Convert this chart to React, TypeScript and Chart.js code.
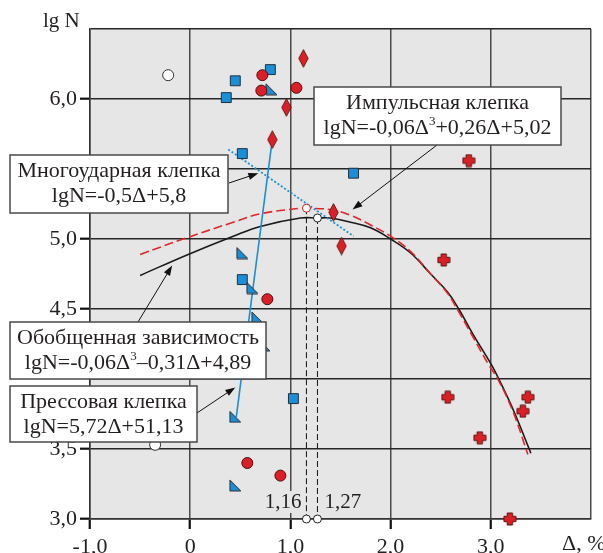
import React, { useEffect, useRef } from "react";
import { Chart, registerables } from "chart.js";
Chart.register(...registerables);

// ---------- data ----------
const xTickLabels = ["-1,0", "0", "1,0", "2,0", "3,0", ""];
const yTickLabels = ["3,0", "3,5", "", "4,5", "5,0", "", "6,0", ""];

const openCircleX = [-0.22, -0.35];
const openCircleY = [6.17, 3.53];

const blueSquareX = [0.36, 0.45, 0.8, 0.52, 1.63, 0.52, 1.03];
const blueSquareY = [6.01, 6.13, 6.21, 5.61, 5.47, 4.71, 3.86];

const blueTriangleX = [0.81, 0.52, 0.62, 0.67, 0.74, 0.45, 0.45];
const blueTriangleY = [6.07, 4.9, 4.65, 4.44, 4.24, 3.73, 3.24];

const redCircleX = [0.72, 0.71, 1.06, 0.77, 0.57, 0.9];
const redCircleY = [6.17, 6.06, 6.08, 4.57, 3.4, 3.31];

const redDiamondX = [1.13, 0.96, 0.82, 1.43, 1.51];
const redDiamondY = [6.29, 5.94, 5.71, 5.19, 4.95];

const redCrossX = [2.78, 2.53, 2.57, 2.89, 3.32, 3.37, 3.19];
const redCrossY = [5.56, 4.85, 3.87, 3.58, 3.77, 3.87, 3.0];

const generalX = [-0.5, -0.02, 0.43, 0.7, 1.1, 1.27, 1.4, 1.6, 1.8, 2.0, 2.2, 2.4, 2.57, 2.68, 2.83, 3.0, 3.08, 3.23, 3.4];
const generalY = [4.74, 4.89, 5.02, 5.09, 5.15, 5.15, 5.15, 5.12, 5.08, 5.0, 4.9, 4.75, 4.62, 4.5, 4.31, 4.11, 4.0, 3.77, 3.47];

const impulseX = [-0.5, -0.03, 0.43, 0.7, 1.1, 1.16, 1.4, 1.6, 1.8, 2.0, 2.2, 2.4, 2.57, 2.68, 2.83, 2.98, 3.07, 3.22, 3.37];
const impulseY = [4.89, 5.01, 5.12, 5.18, 5.22, 5.22, 5.21, 5.17, 5.1, 5.02, 4.91, 4.75, 4.61, 4.48, 4.29, 4.1, 4.0, 3.77, 3.46];

const pressX = [0.81, 0.46];
const pressY = [5.66, 3.73];

const multiX = [0.38, 1.63];
const multiY = [5.64, 5.02];

const peakImpulseX = [1.16, 1.16];
const peakImpulseY = [5.22, 3.0];
const peakGeneralX = [1.27, 1.27];
const peakGeneralY = [5.15, 3.0];
const peakLabels = ["1,16", "1,27"];

const boxTexts = [
  [[["Многоударная клепка", false]], [["lgN=-0,5Δ+5,8", false]]],
  [[["Импульсная клепка", false]], [["lgN=-0,06Δ", false], ["3", true], ["+0,26Δ+5,02", false]]],
  [[["Обобщенная зависимость", false]], [["lgN=-0,06Δ", false], ["3", true], ["–0,31Δ+4,89", false]]],
  [[["Прессовая клепка", false]], [["lgN=5,72Δ+51,13", false]]],
];
const arrowTipX = [0.68, 1.62, -0.18, 0.45];
const arrowTipY = [5.47, 5.21, 4.81, 3.94];

// ---------- layout / style ----------
const BOXES = [
  { x: 10, y: 155, w: 218, h: 58, from: [229, 183] },
  { x: 314, y: 87, w: 247, h: 58, from: [437, 145] },
  { x: 10, y: 322, w: 256, h: 57, from: [138, 322] },
  { x: 10, y: 386, w: 187, h: 56, from: [197, 413] },
];
const FONT = '"Liberation Serif", "DejaVu Serif", serif';
const BLUE = "#1b8ed6";
const RED = "#dc1f26";
const EDGE = "#2a2a2a";
const TXT = "#231f20";

const pts = (xs: number[], ys: number[]) => xs.map((x, i) => ({ x, y: ys[i] }));

function mk(w: number, h: number, draw: (g: CanvasRenderingContext2D) => void) {
  const c = document.createElement("canvas");
  c.width = w;
  c.height = h;
  draw(c.getContext("2d") as CanvasRenderingContext2D);
  return c;
}

function drawRich(ctx: CanvasRenderingContext2D, parts: any[], cx: number, base: number, size: number) {
  let total = 0;
  const ws = parts.map(([t, s]) => {
    ctx.font = `${s ? Math.round(size * 0.6) : size}px ${FONT}`;
    const w = ctx.measureText(t).width;
    total += w;
    return w;
  });
  let x = cx - total / 2;
  parts.forEach(([t, s], i) => {
    ctx.font = `${s ? Math.round(size * 0.6) : size}px ${FONT}`;
    ctx.fillText(t, x, s ? base - size * 0.42 : base);
    x += ws[i];
  });
}

export default function App() {
  const ref = useRef<HTMLCanvasElement>(null);
  useEffect(() => {
    const diamond = mk(11, 19, (g) => {
      g.beginPath();
      g.moveTo(5.5, 0.7);
      g.lineTo(10.2, 9.5);
      g.lineTo(5.5, 18.3);
      g.lineTo(0.8, 9.5);
      g.closePath();
      g.fillStyle = RED;
      g.fill();
      g.strokeStyle = "#5a1414";
      g.lineWidth = 0.9;
      g.stroke();
    });
    const cross = mk(14, 14, (g) => {
      const a = 4.3, b = 9.7, o = 1, e = 13;
      g.beginPath();
      g.moveTo(a, o); g.lineTo(b, o); g.lineTo(b, a); g.lineTo(e, a); g.lineTo(e, b);
      g.lineTo(b, b); g.lineTo(b, e); g.lineTo(a, e); g.lineTo(a, b); g.lineTo(o, b);
      g.lineTo(o, a); g.lineTo(a, a); g.closePath();
      g.fillStyle = RED;
      g.fill();
      g.strokeStyle = "#5a1414";
      g.lineWidth = 1;
      g.lineJoin = "round";
      g.stroke();
    });
    const tri = mk(13, 13, (g) => {
      g.beginPath();
      g.moveTo(1, 1);
      g.lineTo(1, 12);
      g.lineTo(12, 12);
      g.closePath();
      g.fillStyle = BLUE;
      g.fill();
      g.strokeStyle = EDGE;
      g.lineWidth = 1;
      g.stroke();
    });

    const decor = {
      id: "decor",
      beforeDraw(chart: any) {
        const { ctx, chartArea: a } = chart;
        ctx.save();
        ctx.fillStyle = "#e6e6e6";
        ctx.fillRect(a.left, a.top, a.right - a.left, a.bottom - a.top);
        ctx.restore();
      },
      beforeDatasetsDraw(chart: any) {
        const { ctx, scales } = chart;
        const sx = scales.x, sy = scales.y;
        ctx.save();
        ctx.font = `21px ${FONT}`;
        ctx.textBaseline = "alphabetic";
        const base = sy.getPixelForValue(3.0) - 11;
        let px = sx.getPixelForValue(peakImpulseX[0]);
        const w = ctx.measureText(peakLabels[0]).width;
        ctx.fillStyle = "#e6e6e6";
        ctx.fillRect(px - 5 - w - 1, base - 17, w + 2, 22);
        ctx.fillStyle = TXT;
        ctx.textAlign = "right";
        ctx.fillText(peakLabels[0], px - 5, base);
        px = sx.getPixelForValue(peakGeneralX[0]);
        ctx.textAlign = "left";
        ctx.fillText(peakLabels[1], px + 7, base);
        ctx.restore();
      },
      afterDraw(chart: any) {
        const { ctx, scales } = chart;
        const sx = scales.x, sy = scales.y;
        ctx.save();
        ctx.fillStyle = TXT;
        ctx.font = `21px ${FONT}`;
        ctx.textAlign = "left";
        ctx.fillText("lg N", 43, 27);
        ctx.font = `22px ${FONT}`;
        ctx.fillText("Δ, %", 562, 550);
        BOXES.forEach((b, i) => {
          const [fx, fy] = b.from;
          const tx = sx.getPixelForValue(arrowTipX[i]);
          const ty = sy.getPixelForValue(arrowTipY[i]);
          const ang = Math.atan2(ty - fy, tx - fx);
          ctx.strokeStyle = "#111";
          ctx.lineWidth = 1;
          ctx.beginPath();
          ctx.moveTo(fx, fy);
          ctx.lineTo(tx - 7 * Math.cos(ang), ty - 7 * Math.sin(ang));
          ctx.stroke();
          ctx.fillStyle = "#111";
          ctx.beginPath();
          ctx.moveTo(tx, ty);
          ctx.lineTo(tx - 10 * Math.cos(ang) + 3.5 * Math.sin(ang), ty - 10 * Math.sin(ang) - 3.5 * Math.cos(ang));
          ctx.lineTo(tx - 10 * Math.cos(ang) - 3.5 * Math.sin(ang), ty - 10 * Math.sin(ang) + 3.5 * Math.cos(ang));
          ctx.closePath();
          ctx.fill();
        });
        BOXES.forEach((b, i) => {
          ctx.fillStyle = "#ffffff";
          ctx.fillRect(b.x, b.y, b.w, b.h);
          ctx.strokeStyle = "#4a4a4a";
          ctx.lineWidth = 1.5;
          ctx.strokeRect(b.x, b.y, b.w, b.h);
          ctx.fillStyle = TXT;
          ctx.textAlign = "left";
          const lines = boxTexts[i];
          drawRich(ctx, lines[0], b.x + b.w / 2, b.y + 22, 22);
          drawRich(ctx, lines[1], b.x + b.w / 2, b.y + 47, 22);
        });
        ctx.restore();
      },
    };

    const marker = (data: any, style: any, r: number, bg: string, bc: string, bw = 1) => ({
      data,
      pointStyle: style,
      pointRadius: r,
      pointHoverRadius: r,
      backgroundColor: bg,
      borderColor: bc,
      borderWidth: bw,
      showLine: false,
      clip: false as any,
    });
    const line = (data: any, color: string, width: number, dash: number[], extra: any = {}) => ({
      data,
      showLine: true,
      borderColor: color,
      borderWidth: width,
      borderDash: dash,
      pointRadius: 0,
      tension: 0.4,
      fill: false,
      clip: false as any,
      ...extra,
    });

    const chart = new Chart(ref.current as HTMLCanvasElement, {
      type: "scatter",
      data: {
        datasets: [
          marker(pts(redCrossX, redCrossY), cross, 7, RED, RED),
          marker(pts(redDiamondX, redDiamondY), diamond, 9, RED, RED),
          marker(pts(redCircleX, redCircleY), "circle", 5.5, RED, "#4a1010"),
          marker(pts(blueTriangleX, blueTriangleY), tri, 6, BLUE, EDGE),
          marker(pts(blueSquareX, blueSquareY), "rect", 7, BLUE, "#1f3040"),
          marker(pts(openCircleX, openCircleY), "circle", 5.5, "#ffffff", "#333333"),
          line(pts(peakImpulseX, peakImpulseY), "#111", 1, [6, 3], {
            pointRadius: 4, pointBackgroundColor: "#fff", pointBorderColor: [RED, "#222"], pointBorderWidth: 1, tension: 0,
          }),
          line(pts(peakGeneralX, peakGeneralY), "#111", 1, [6, 3], {
            pointRadius: 4, pointBackgroundColor: "#fff", pointBorderColor: "#222", pointBorderWidth: 1, tension: 0,
          }),
          line(pts(multiX, multiY), BLUE, 1.8, [2, 2], { tension: 0 }),
          line(pts(pressX, pressY), BLUE, 1.6, [], { tension: 0 }),
          line(pts(impulseX, impulseY), "#e0252b", 1.6, [9, 4]),
          line(pts(generalX, generalY), "#1a1a1a", 1.6, []),
        ] as any,
      },
      options: {
        responsive: false,
        animation: false,
        events: [],
        layout: { padding: { top: 29, right: 12, left: 0, bottom: 0 } },
        plugins: { legend: { display: false }, tooltip: { enabled: false } },
        scales: {
          x: {
            type: "linear",
            min: -1,
            max: 4,
            afterFit: (s: any) => { s.height = 34; },
            ticks: {
              stepSize: 1,
              padding: 5,
              color: TXT,
              font: { family: FONT, size: 22 },
              maxRotation: 0,
              autoSkip: false,
              callback: (_v: any, i: number) => xTickLabels[i] ?? "",
            },
            grid: {
              color: "#4a4a4a",
              lineWidth: 1.5,
              tickLength: 10,
              tickWidth: 2.2,
              tickColor: (c: any) => (c.tick && c.tick.value === 4 ? "rgba(0,0,0,0)" : "#111111"),
            },
            border: { display: true, color: "#333333", width: 1.5 },
          },
          y: {
            type: "linear",
            min: 3,
            max: 6.5,
            afterFit: (s: any) => { s.width = 90; },
            ticks: {
              stepSize: 0.5,
              padding: 3,
              color: TXT,
              font: { family: FONT, size: 22 },
              autoSkip: false,
              callback: (_v: any, i: number) => yTickLabels[i] ?? "",
            },
            grid: {
              color: "#262626",
              lineWidth: 1.4,
              tickLength: 10,
              tickWidth: 2.2,
              tickColor: (c: any) => (c.tick && yTickLabels[c.index] === "" ? "rgba(0,0,0,0)" : "#111111"),
            },
            border: { display: true, color: "#333333", width: 1.5 },
          },
        },
      } as any,
      plugins: [decor],
    });
    return () => chart.destroy();
  }, []);
  return (
    <div style={{ position: "absolute", left: 0, top: 0, width: 603, height: 553 }}>
      <canvas ref={ref} width={603} height={553} style={{ width: 603, height: 553 }} />
    </div>
  );
}
